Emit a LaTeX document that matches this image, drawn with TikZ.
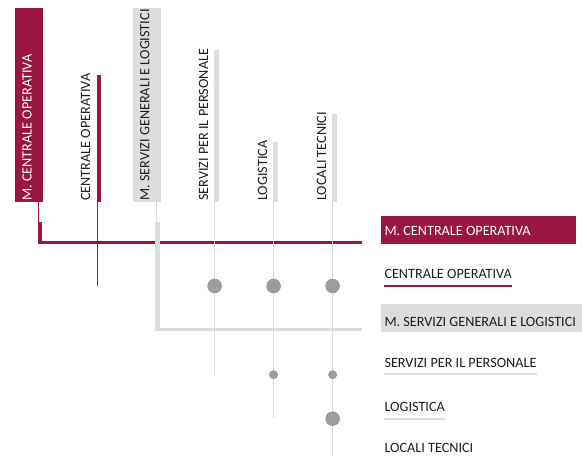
\documentclass[tikz,border=0pt]{standalone}
\usepackage{fontspec}
\setmainfont{Carlito}
\definecolor{crim}{HTML}{9A1541}
\definecolor{lgray}{HTML}{DDDDDD}
\definecolor{lline}{HTML}{D9D9D9}
\definecolor{dgray}{HTML}{9C9C9C}
\definecolor{txt}{HTML}{1E1E1E}
\begin{document}
\begin{tikzpicture}[x=1pt,y=-1pt,
  fnt/.style={font=\fontsize{14.2}{17}\selectfont},
  htext/.style={fnt,rotate=90,anchor=base west,inner sep=0,text=txt},
  rtext/.style={fnt,anchor=base west,inner sep=0,text=txt},
  bar/.style={anchor=north west,inner sep=0,outer sep=0,draw=none},
  thinc/.style={draw=crim,line width=1.3pt},
  thing/.style={draw=lline,line width=1.2pt},
  bigdot/.style={circle,fill=dgray,inner sep=0,minimum size=14.6pt},
  smalldot/.style={circle,fill=dgray,inner sep=0,minimum size=9pt}]
\useasboundingbox (0,0) rectangle (582,456);

% ---- header bars / boxes
\node[bar,fill=crim,minimum width=28pt,minimum height=194pt] (b1) at (15,8) {};
\node[bar,fill=crim,minimum width=4.6pt,minimum height=127pt] (b2) at (96.7,75) {};
\node[bar,fill=lgray,minimum width=28pt,minimum height=194pt] (b3) at (133,8) {};
\node[bar,fill=lgray,minimum width=5pt,minimum height=152pt] (b4) at (214,50) {};
\node[bar,fill=lgray,minimum width=5pt,minimum height=60pt] (b5) at (273,142) {};
\node[bar,fill=lgray,minimum width=5pt,minimum height=88pt] (b6) at (332,114) {};

% ---- header texts
\node[htext,text=white] (h1) at (31.7,201) {M. CENTRALE OPERATIVA};
\node[htext] (h2) at (90,201) {CENTRALE OPERATIVA};
\node[htext] (h3) at (149.3,201) {M. SERVIZI GENERALI E LOGISTICI};
\node[htext] (h4) at (208,201) {SERVIZI PER IL PERSONALE};
\node[htext] (h5) at (267,201) {LOGISTICA};
\node[htext] (h6) at (326,201) {LOCALI TECNICI};

% ---- row boxes and texts
\node[bar,fill=crim,minimum width=195pt,minimum height=28pt] (r1box) at (381,215.7) {};
\node[bar,fill=lgray,minimum width=205pt,minimum height=27.7pt] (r3box) at (381,304) {};
\node[rtext,text=white] (r1) at (384.3,235) {M. CENTRALE OPERATIVA};
\node[rtext] (r2) at (384.3,278.7) {CENTRALE OPERATIVA};
\node[rtext] (r3) at (384.3,326) {M. SERVIZI GENERALI E LOGISTICI};
\node[rtext] (r4) at (384.3,367.3) {SERVIZI PER IL PERSONALE};
\node[rtext] (r5) at (384.3,411) {LOGISTICA};
\node[rtext] (r6) at (384.3,452.3) {LOCALI TECNICI};

% underlines
\draw[draw=crim,line width=2pt] ([yshift=-7.3pt]r2.base west) -- ([yshift=-7.3pt]r2.base east);
\draw[draw=lgray,line width=2.7pt] ([yshift=-6.7pt]r4.base west) -- ([yshift=-6.7pt]r4.base east);
\draw[draw=lgray,line width=2.7pt] ([yshift=-8pt]r5.base west) -- ([yshift=-8pt]r5.base east);

% ---- crimson connector of M. CENTRALE OPERATIVA
\coordinate (c1a) at (38.2,202);
\coordinate (c1b) at (38.2,222);
\coordinate (c1c) at (37.7,242);
\coordinate (c1d) at (362.3,242);
\draw[thinc,line width=1pt] (c1a) -- (c1b);
\node[bar,fill=crim,minimum width=4.6pt,minimum height=20pt] (c1bar) at (37.7,222) {};
\draw[draw=crim,line width=3pt] (c1c) -- (c1d);

% ---- crimson line of CENTRALE OPERATIVA
\coordinate (c2a) at (97.3,202);
\coordinate (c2b) at (97.3,286);
\draw[thinc] (c2a) -- (c2b);

% ---- gray connector of M. SERVIZI GENERALI
\coordinate (c3a) at (156.5,202);
\coordinate (c3b) at (156.5,222);
\coordinate (c3c) at (155,329.5);
\coordinate (c3d) at (362,329.5);
\draw[thing] (c3a) -- (c3b);
\node[bar,fill=lgray,minimum width=5pt,minimum height=109pt] (c3bar) at (155,222) {};
\draw[draw=lgray,line width=2.6pt] (c3c) -- (c3d);

% ---- thin gray lines
\coordinate (c4a) at (214.6,202);
\coordinate (c4b) at (214.6,375);
\coordinate (c5a) at (273.6,202);
\coordinate (c5b) at (273.6,418);
\coordinate (c6a) at (332.6,202);
\coordinate (c6b) at (332.6,456);
\draw[thing] (c4a) -- (c4b);
\draw[thing] (c5a) -- (c5b);
\draw[thing] (c6a) -- (c6b);

% ---- dots
\node[bigdot] (d42) at (214.6,286) {};
\node[bigdot] (d52) at (273.6,286) {};
\node[bigdot] (d62) at (332.6,286) {};
\node[smalldot] (d54) at (273.6,374.7) {};
\node[smalldot] (d64) at (332.6,374.7) {};
\node[bigdot] (d65) at (332.6,418.7) {};
\end{tikzpicture}
\end{document}
